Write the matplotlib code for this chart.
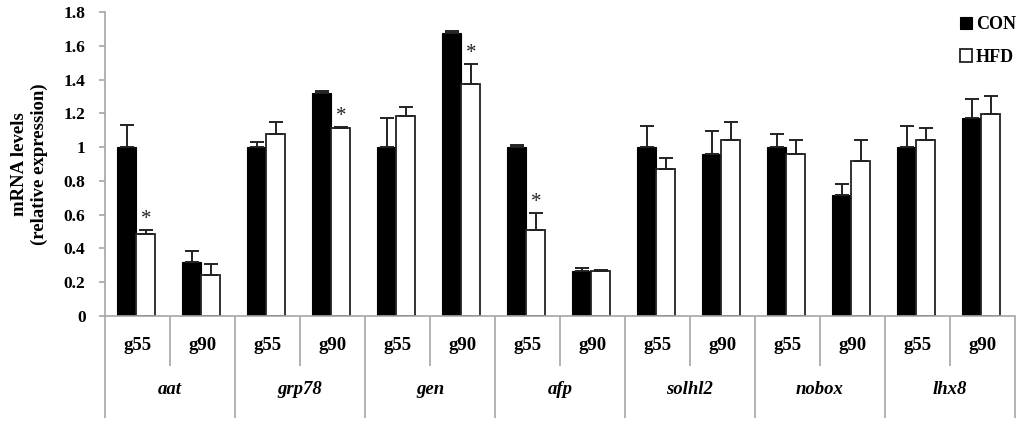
import matplotlib
matplotlib.use("Agg")
import matplotlib.pyplot as plt
import numpy as np
from matplotlib.ticker import FixedLocator, NullFormatter

plt.rcParams['font.family'] = ['Liberation Serif', 'DejaVu Serif']
plt.rcParams['font.weight'] = 'bold'

genes = ["aat", "grp78", "gen", "afp", "solhl2", "nobox", "lhx8"]
ages = ["g55", "g90"]
con = [1.00, 0.32, 1.00, 1.32, 1.00, 1.675, 1.00, 0.268, 1.00, 0.96, 1.00, 0.718, 1.00, 1.17]
con_err = [0.13, 0.065, 0.03, 0.015, 0.17, 0.014, 0.014, 0.018, 0.123, 0.135, 0.078, 0.063, 0.123, 0.113]
hfd = [0.485, 0.24, 1.078, 1.115, 1.186, 1.375, 0.511, 0.268, 0.87, 1.042, 0.96, 0.916, 1.042, 1.196]
hfd_err = [0.025, 0.07, 0.07, 0.006, 0.053, 0.117, 0.10, 0.003, 0.064, 0.107, 0.08, 0.126, 0.07, 0.106]
signif = [True, False, False, True, False, True, True, False, False, False, False, False, False, False]
yticks = [0, 0.2, 0.4, 0.6, 0.8, 1, 1.2, 1.4, 1.6, 1.8]
ytick_labels = ["0", "0.2", "0.4", "0.6", "0.8", "1", "1.2", "1.4", "1.6", "1.8"]

fig = plt.figure(figsize=(10.24, 4.26), dpi=100)
ax = fig.add_axes([105/1024, 110/426, 910/1024, 304/426])

n = len(con)
x = np.arange(n) + 0.5
w = 0.295
off = -0.02
ax.bar(x + off - w/2, con, w, color='black', edgecolor='black', linewidth=0.8, label='CON', zorder=2)
ax.bar(x + off + w/2, hfd, w, color='white', edgecolor='#222222', linewidth=1.3, label='HFD', zorder=2)
ax.errorbar(x + off - w/2, con, yerr=[np.zeros(n), con_err], fmt='none', ecolor='#222222',
            elinewidth=1.4, capsize=5, capthick=1.4, zorder=3)
ax.errorbar(x + off + w/2, hfd, yerr=[np.zeros(n), hfd_err], fmt='none', ecolor='#222222',
            elinewidth=1.4, capsize=5, capthick=1.4, zorder=3)
for i in range(n):
    if signif[i]:
        ax.text(x[i] + off + w/2, hfd[i] + hfd_err[i] + 0.005, '*', ha='center', va='bottom',
                fontsize=15, fontweight='normal', color='#222222')

ax.set_xlim(0, n)
ax.set_ylim(0, 1.8)
ax.set_yticks(yticks)
ax.set_yticklabels(ytick_labels, fontsize=12.5, fontweight='bold')
ax.tick_params(axis='y', length=4, width=1.2, color='#a6a6a6', pad=10)
ax.set_ylabel("mRNA levels\n(relative expression)", fontsize=13.5, fontweight='bold',
              labelpad=11, linespacing=1.2)

# x-axis dividers via ticks
ax.xaxis.set_major_locator(FixedLocator(np.arange(0, n + 1, 2)))
ax.xaxis.set_minor_locator(FixedLocator(np.arange(1, n, 2)))
ax.xaxis.set_major_formatter(NullFormatter())
ax.tick_params(axis='x', which='major', length=73.5, width=1.2, color='#a6a6a6', direction='out')
ax.tick_params(axis='x', which='minor', length=36, width=1.2, color='#a6a6a6', direction='out')

trans = ax.get_xaxis_transform()
for i in range(n):
    ax.text(x[i], -0.098, ages[i % 2], transform=trans, ha='center', va='center',
            fontsize=13.5, fontweight='bold')
for g, name in enumerate(genes):
    ax.text(2 * g + 1, -0.243, name, transform=trans, ha='center', va='center',
            fontsize=13.5, fontweight='bold', style='italic')

for s in ['top', 'right']:
    ax.spines[s].set_visible(False)
ax.spines['left'].set_color('#a6a6a6')
ax.spines['bottom'].set_color('#a6a6a6')
ax.spines['left'].set_linewidth(1.2)
ax.spines['bottom'].set_linewidth(1.2)

leg = fig.legend(loc='upper right', bbox_to_anchor=(1.008, 1.0), frameon=False,
                 prop={'family': 'Liberation Serif', 'weight': 'bold', 'size': 13},
                 handlelength=0.7, handleheight=0.7, handletextpad=0.2, labelspacing=0.85)

fig.savefig("out.png", dpi=100)
